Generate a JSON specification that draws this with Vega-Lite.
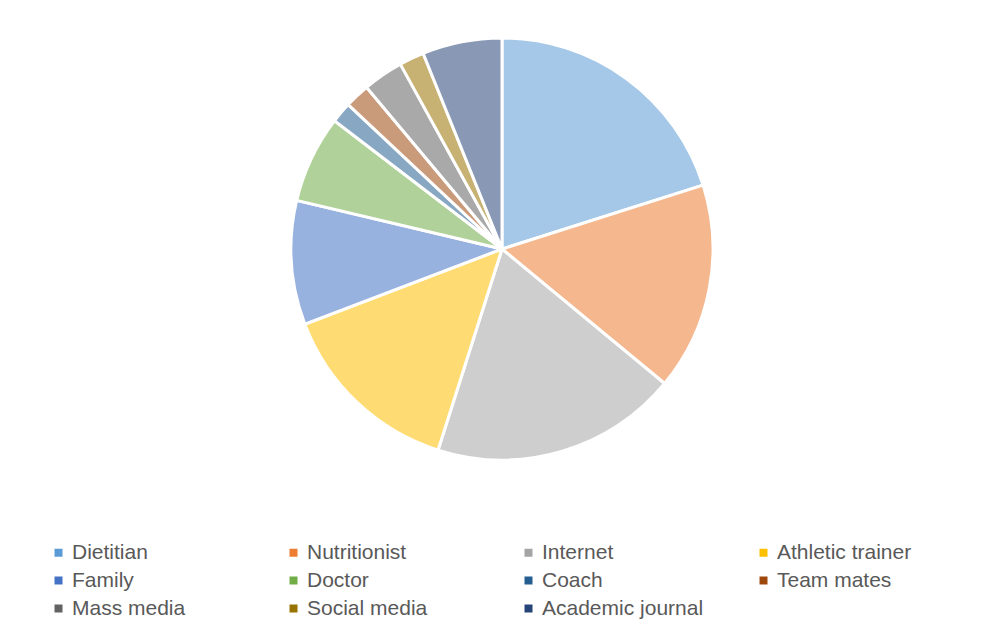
{
  "$schema": "https://vega.github.io/schema/vega-lite/v6.json",
  "autosize": {"type": "none"},
  "width": 422,
  "height": 422,
  "padding": {"left": 291, "top": 38, "right": 272, "bottom": 175},
  "background": "white",
  "config": {"view": {"stroke": null}},
  "data": {
    "values": [
      {"source": "Dietitian", "share": 20.1},
      {"source": "Nutritionist", "share": 15.9},
      {"source": "Internet", "share": 18.9},
      {"source": "Athletic trainer", "share": 14.3},
      {"source": "Family", "share": 9.5},
      {"source": "Doctor", "share": 6.7},
      {"source": "Coach", "share": 1.6},
      {"source": "Team mates", "share": 1.9},
      {"source": "Mass media", "share": 3.1},
      {"source": "Social media", "share": 1.9},
      {"source": "Academic journal", "share": 6.1}
    ]
  },
  "transform": [{"window": [{"op": "row_number", "as": "rank"}]}],
  "mark": {"type": "arc", "outerRadius": 211, "stroke": "white", "strokeWidth": 3, "fillOpacity": 0.55},
  "encoding": {
    "theta": {"field": "share", "type": "quantitative", "stack": true},
    "order": {"field": "rank", "type": "quantitative", "sort": "ascending"},
    "color": {
      "field": "source",
      "type": "nominal",
      "sort": ["Dietitian", "Nutritionist", "Internet", "Athletic trainer", "Family", "Doctor", "Coach", "Team mates", "Mass media", "Social media", "Academic journal"],
      "scale": {
        "domain": ["Dietitian", "Nutritionist", "Internet", "Athletic trainer", "Family", "Doctor", "Coach", "Team mates", "Mass media", "Social media", "Academic journal"],
        "range": ["#5B9BD5", "#ED7D31", "#A5A5A5", "#FFC000", "#4472C4", "#70AD47", "#255E91", "#9E480E", "#636363", "#997300", "#264478"]
      },
      "legend": {
        "title": null,
        "orient": "none",
        "legendX": -243,
        "legendY": 504,
        "direction": "horizontal",
        "columns": 4,
        "gridAlign": "all",
        "columnPadding": 49,
        "rowPadding": 6,
        "padding": 0,
        "symbolType": "square",
        "symbolSize": 64,
        "symbolStrokeWidth": 0,
        "symbolOpacity": 1,
        "labelOffset": 3,
        "labelFont": "Liberation Sans",
        "labelFontSize": 21,
        "labelColor": "#595959",
        "labelLimit": 300
      }
    }
  }
}
